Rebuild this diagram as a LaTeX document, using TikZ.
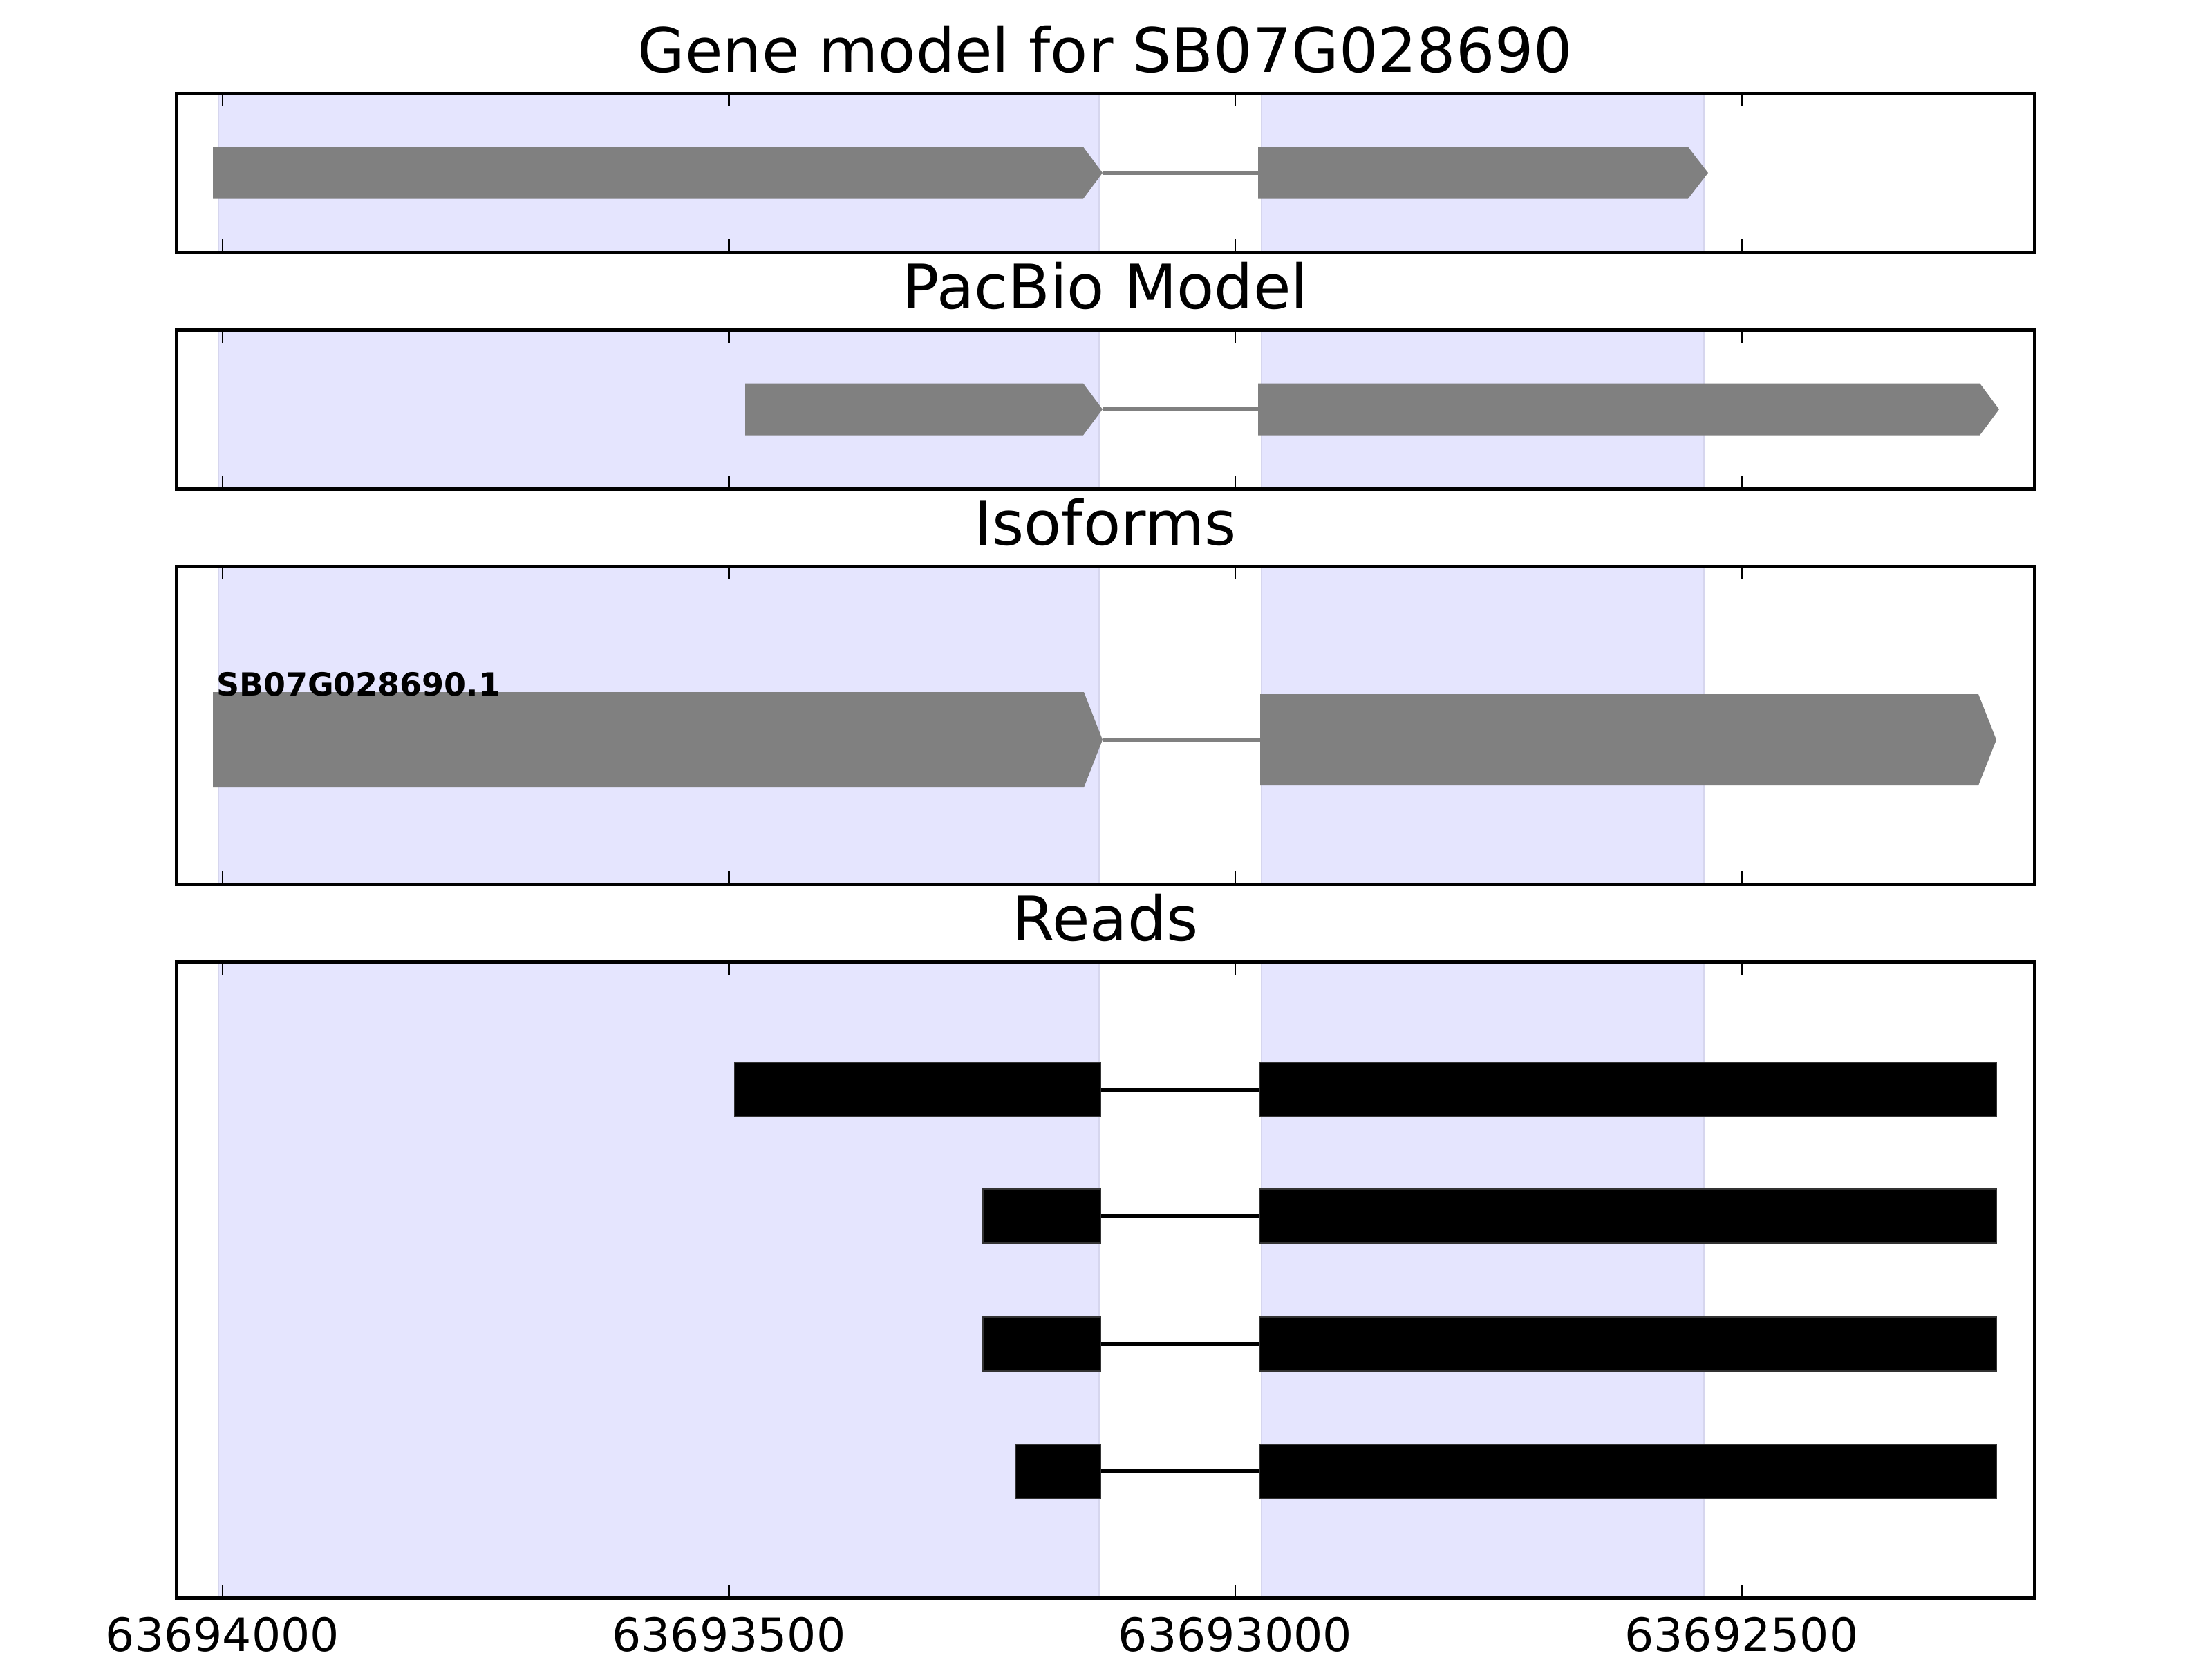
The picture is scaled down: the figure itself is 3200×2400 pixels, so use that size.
\documentclass[tikz,border=0pt]{standalone}
\usepackage{fontspec}
\setmainfont{DejaVu Sans}
\usepackage{tikz}
\usetikzlibrary{positioning}
\usepackage{xcolor}
\definecolor{spanblue}{RGB}{229,229,254}
\definecolor{spanedge}{RGB}{214,214,238}
\definecolor{exongray}{RGB}{128,128,128}
\tikzset{
  panel/.style  ={draw, line width=0.9pt},
  span/.style   ={fill=spanblue, draw=spanedge, line width=0.5pt},
  exon/.style   ={fill=exongray},
  intron/.style ={draw=exongray, line width=1.1pt},
  readbox/.style={fill=black, draw=black!80, line width=0.3pt},
  readln/.style ={draw=black, line width=1.1pt},
  tck/.style    ={line width=0.5pt},
  ttl/.style    ={font=\fontsize{16}{19}\selectfont, anchor=base},
  ticklbl/.style={font=\fontsize{12}{14}\selectfont, anchor=base},
  isolbl/.style ={font=\fontsize{8.3}{10}\selectfont\bfseries,
                  anchor=base west, inner sep=0pt},
}

\begin{document}
\begin{tikzpicture}[x=0.00635cm, y=-0.00635cm]
  \useasboundingbox (0,0) rectangle (3200,2400);
  % panels: shaded exon spans, ticks, frame
  \foreach \top/\bot in {135/365, 477/707, 819/1279, 1391/2311} {
    \filldraw[span] (316,\top) rectangle (1590,\bot);
    \filldraw[span] (1825,\top) rectangle (2465,\bot);
    \foreach \tx in {322,1054.5,1787,2519.5} {
      \draw[tck] (\tx,\top) -- ++(0,19);
      \draw[tck] (\tx,\bot) -- ++(0,-19);
    }
    \draw[panel] (255,\top) rectangle (2943,\bot);
  }
  \node[ttl] (tgene)  at (1599,104)  {Gene model for SB07G028690};
  \node[ttl] (tpac)   at (1599,446)  {PacBio Model};
  \node[ttl] (tiso)   at (1599,788)  {Isoforms};
  \node[ttl] (treads) at (1599,1360) {Reads};
  % introns
  \foreach \ya/\xa/\xb in {250/1595/1820, 592/1595/1820, 1070/1595/1823}
    \draw[intron] (\xa,\ya) -- (\xb,\ya);
  % exon arrows: start / flat end / tip / centre / half height
  \foreach \xa/\xf/\xt/\yc/\hh in {308/1567/1595/250/37.5, 1820/2442/2471/250/37.5,
      1078/1567/1595/592/37.5, 1820/2864/2892/592/37.5,
      308/1568/1595/1070/69, 1823/2862/2888/1070/66}
    \fill[exon] (\xa,\yc-\hh) -- (\xf,\yc-\hh) -- (\xt,\yc)
      -- (\xf,\yc+\hh) -- (\xa,\yc+\hh) -- cycle;
  \node[isolbl] (iso1) at (312,1006) {SB07G028690.1};
  % reads
  \foreach \xa/\yc in {1063/1576, 1422/1759, 1422/1944, 1469/2128} {
    \draw[readln] (1592,\yc) -- (1822,\yc);
    \filldraw[readbox] (\xa,\yc-39) rectangle (1592,\yc+39);
    \filldraw[readbox] (1822,\yc-39) rectangle (2888,\yc+39);
  }
  % x tick labels
  \foreach \tx/\tl/\nm in {322/63694000/ta, 1054.5/63693500/tb,
      1787/63693000/tc, 2519.5/63692500/td}
    \node[ticklbl] (\nm) at (\tx,2388) {\tl};
\end{tikzpicture}
\end{document}
